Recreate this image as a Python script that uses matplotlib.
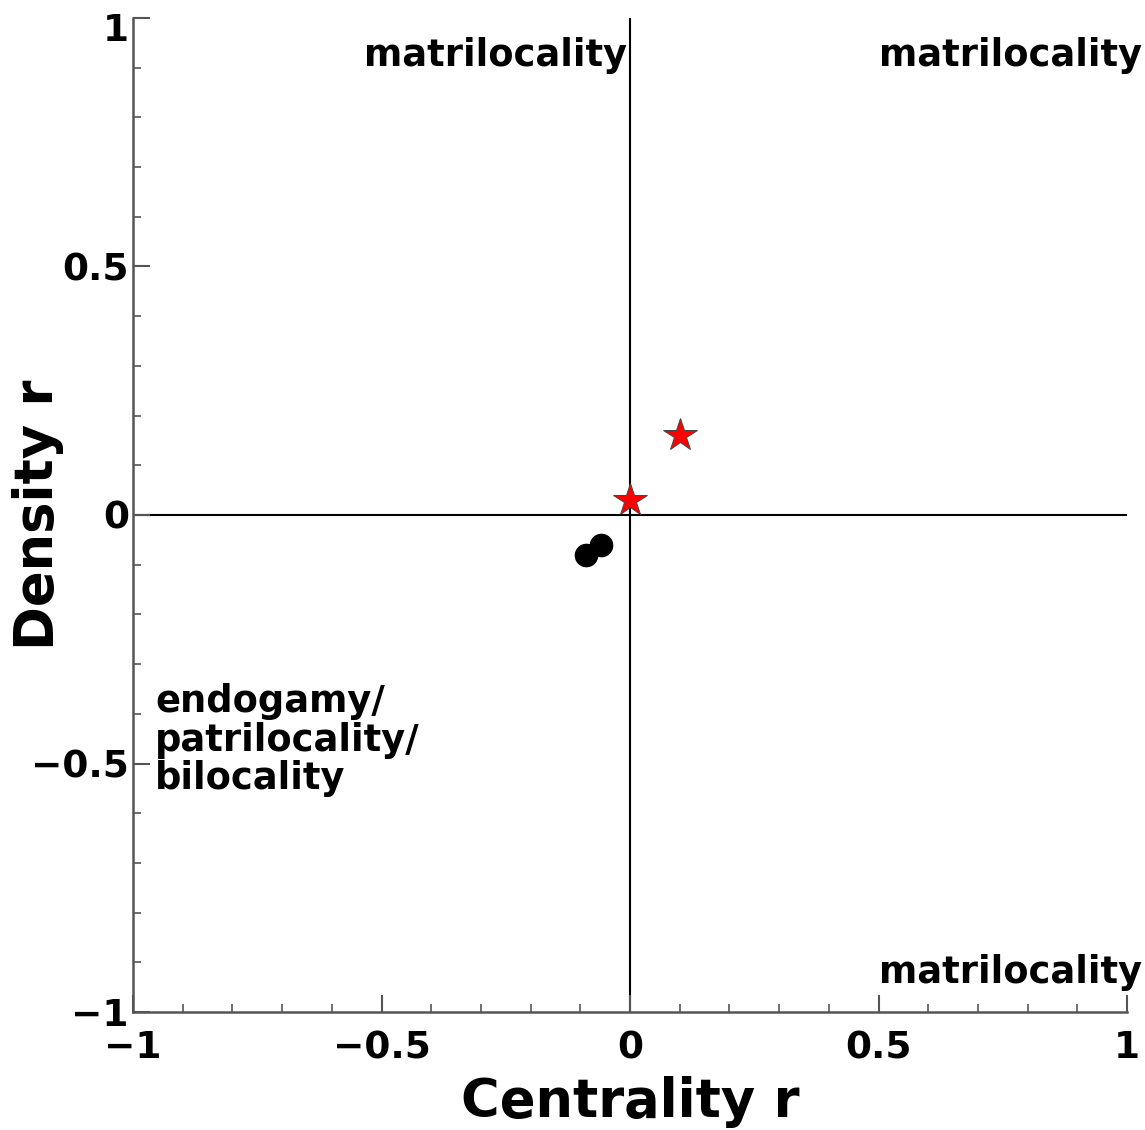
import numpy as np
import matplotlib
matplotlib.use("Agg")
import matplotlib.pyplot as plt
from matplotlib.ticker import MultipleLocator
from matplotlib.transforms import ScaledTranslation

# data
circ_x = [-0.088, -0.058]
circ_y = [-0.080, -0.060]
star_x = [0.0, 0.10]
star_y = [0.03, 0.16]

xticks = [-1, -0.5, 0, 0.5, 1]
yticks = [-1, -0.5, 0, 0.5, 1]
tick_labels = ["\u22121", "\u22120.5", "0", "0.5", "1"]

plt.rcParams['font.family'] = ['DejaVu Sans']
plt.rcParams['font.weight'] = 'bold'

fig = plt.figure(figsize=(11.45, 11.3), dpi=100)
ax = fig.add_axes([0.1162, 0.1044, 0.8681, 0.8797])

ax.axhline(0, color='black', lw=1.5, zorder=1)
ax.axvline(0, color='black', lw=1.5, zorder=1)

ax.plot(circ_x, circ_y, 'o', color='black', markersize=16, zorder=3)
ax.plot(star_x, star_y, '*', color='red', markeredgecolor='#444444',
        markeredgewidth=0.7, markersize=25, zorder=3)

ax.set_xlim(-1, 1)
ax.set_ylim(-1, 1)
ax.set_xticks(xticks)
ax.set_yticks(yticks)
ax.set_xticklabels(tick_labels, fontsize=27, fontweight='bold')
ax.set_yticklabels(tick_labels, fontsize=27, fontweight='bold')
ax.xaxis.set_minor_locator(MultipleLocator(0.1))
ax.yaxis.set_minor_locator(MultipleLocator(0.1))
ax.tick_params(which='major', direction='in', length=12, width=1.5, color='#555555')
ax.tick_params(which='minor', direction='in', length=6, width=1.2, color='#555555')
ax.tick_params(axis='x', which='major', pad=13)
ax.tick_params(axis='y', which='major', pad=3)

# top y label sits a bit lower in the original
top_lbl = ax.get_yticklabels()[-1]
top_lbl.set_transform(top_lbl.get_transform() + ScaledTranslation(0, -0.09, fig.dpi_scale_trans))

for s in ['top', 'right']:
    ax.spines[s].set_visible(False)
for s in ['left', 'bottom']:
    ax.spines[s].set_color('#555555')
    ax.spines[s].set_linewidth(1.8)

ax.set_xlabel("Centrality r", fontsize=38, fontweight='bold', labelpad=7)
fig.text(38 / 1145, 1 - 515 / 1130, "Density r", rotation=90, ha='center',
         va='center', fontsize=38, fontweight='bold')

tkw = dict(fontsize=26.5, fontweight='bold', clip_on=False)
ax.text(-0.006, 0.925, "matrilocality", ha='right', va='center', **tkw)
ax.text(0.5, 0.925, "matrilocality", ha='left', va='center', **tkw)
ax.text(0.5, -0.92, "matrilocality", ha='left', va='center', **tkw)
ax.text(-0.956, -0.453, "endogamy/\npatrilocality/\nbilocality", ha='left',
        va='center', linespacing=1.05, **tkw)

fig.savefig("out.png", dpi=100)
